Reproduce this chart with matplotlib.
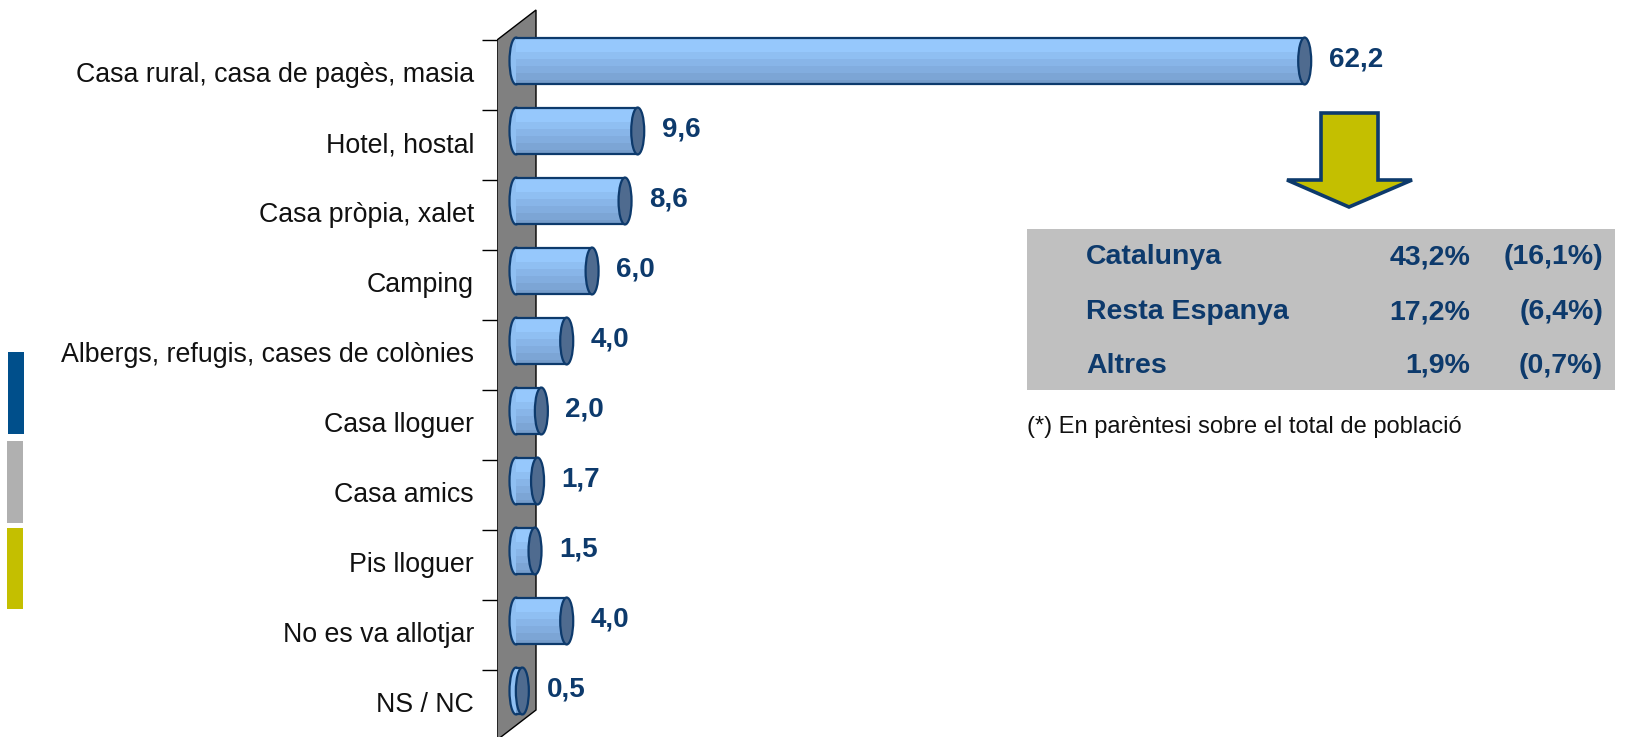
import matplotlib
matplotlib.use("Agg")
import matplotlib.pyplot as plt
import matplotlib.transforms as mtransforms
from matplotlib.patches import Ellipse, Polygon, Rectangle

plt.rcParams['font.family'] = ['Liberation Sans', 'DejaVu Sans']

categories = ['Casa rural, casa de pagès, masia', 'Hotel, hostal', 'Casa pròpia, xalet',
              'Camping', 'Albergs, refugis, cases de colònies', 'Casa lloguer',
              'Casa amics', 'Pis lloguer', 'No es va allotjar', 'NS / NC']
values = [62.2, 9.6, 8.6, 6.0, 4.0, 2.0, 1.7, 1.5, 4.0, 0.5]

origins = ['Catalunya', 'Resta Espanya', 'Altres']
pct_tourists = [43.2, 17.2, 1.9]
pct_population = [16.1, 6.4, 0.7]

W, H = 1644, 737
NAVY = '#0d3a6c'


def fmt(v):
    return f"{v:.1f}".replace('.', ',')


def px(x, y):
    # pixel position (from top-left) -> figure fraction
    return x / W, 1 - y / H


fig = plt.figure(figsize=(W / 100, H / 100), dpi=100)

# bar axes: zero at x=516 px, 12.68 px per unit, categories every 70 px
x0, kx = 516, 12.68
ax_left = 497
ax = fig.add_axes([ax_left / W, 0, 1 - ax_left / W, 1])
ax.set_xlim(-(x0 - ax_left) / kx, (W - x0) / kx)
ax.set_ylim((H - 75) / 70, -75 / 70)
for s in ax.spines.values():
    s.set_visible(False)
ax.set_xticks([])
ax.patch.set_alpha(0)

n = len(categories)
ax.set_yticks(range(n))
ax.set_yticklabels(categories, fontsize=19.3, color='#111111')
ax.set_yticks([i - 0.5 for i in range(n)], minor=True)
ax.tick_params(axis='y', which='major', length=0, pad=16.5)
ax.tick_params(axis='y', which='minor', length=10.8, width=1.0, color='black')
lift = mtransforms.ScaledTranslation(0, 3 / 100, fig.dpi_scale_trans)
for lab in ax.get_yticklabels():
    lab.set_transform(lab.get_transform() + lift)

# grey back wall
dx_wall = (536 - x0) / kx
dy_wall = -30 / 70
front = -(x0 - ax_left) / kx
wall = Polygon([(front, n - 0.5), (front, -0.5), (dx_wall, -0.5 + dy_wall),
                (dx_wall, n - 0.5 + dy_wall)], closed=True,
               facecolor='#808080', edgecolor='black', lw=1.0, zorder=1)
ax.add_patch(wall)

# cylinder bars
bar_h = 0.67
shift = -0.2
cap_w = 13 / kx
stripes = [(0.00, 0.30, '#96c8fc'), (0.30, 0.45, '#8fbff2'), (0.45, 0.60, '#88b5e8'),
           (0.60, 0.75, '#82addf'), (0.75, 0.90, '#7ca5d5'), (0.90, 1.00, '#769dcb')]
for i, v in enumerate(values):
    yc = i + shift
    top = yc - bar_h / 2
    ax.add_patch(Ellipse((0, yc), cap_w, bar_h, facecolor='#8fbff2',
                         edgecolor=NAVY, lw=1.6, zorder=2))
    for a, b, c in stripes:
        ax.barh(top + (a + b) / 2 * bar_h, v, height=(b - a) * bar_h, left=0,
                color=c, lw=0, zorder=3)
    ax.hlines([top, top + bar_h], 0, v, colors=NAVY, lw=1.6, zorder=4)
    ax.add_patch(Ellipse((v, yc), cap_w, bar_h, facecolor='#4f6b8f',
                         edgecolor=NAVY, lw=1.6, zorder=5))
    ax.text(v + 1.9, yc - 0.02, fmt(v), ha='left', va='center', fontsize=20,
            fontweight='bold', color=NAVY, zorder=6)

# arrow pointing to the origin table
arrow_pts = [(1321, 113), (1378, 113), (1378, 180), (1412, 180), (1349, 207),
             (1287, 180), (1321, 180)]
fig.patches.append(Polygon([px(x, y) for x, y in arrow_pts], closed=True,
                           transform=fig.transFigure, facecolor='#c4bf00',
                           edgecolor=NAVY, lw=2.6, joinstyle='miter'))

# origin table
bx0, by0 = px(1027, 390)
bx1, by1 = px(1615, 229)
fig.patches.append(Rectangle((bx0, by0), bx1 - bx0, by1 - by0,
                             transform=fig.transFigure, facecolor='#c0c0c0', lw=0))
for name, p, q, y in zip(origins, pct_tourists, pct_population, [257, 312, 366]):
    fig.text(*px(1086, y), name, ha='left', va='center', fontsize=20.5,
             fontweight='bold', color=NAVY)
    fig.text(*px(1470, y), fmt(p) + '%', ha='right', va='center', fontsize=20.5,
             fontweight='bold', color=NAVY)
    fig.text(*px(1603, y), '(' + fmt(q) + '%)', ha='right', va='center',
             fontsize=20.5, fontweight='bold', color=NAVY)

fig.text(*px(1027, 427), '(*) En parèntesi sobre el total de població', ha='left',
         va='center', fontsize=17, color='#111111')

# colour key strips on the left edge
for x, y0, y1, c in [(8, 352, 434, '#004f8b'), (7, 441, 523, '#b0b0b0'),
                     (7, 528, 609, '#c4bf00')]:
    sx, sy = px(x, y1)
    fig.patches.append(Rectangle((sx, sy), 16 / W, (y1 - y0) / H,
                                 transform=fig.transFigure, facecolor=c, lw=0))

fig.savefig('out.png', dpi=100)
